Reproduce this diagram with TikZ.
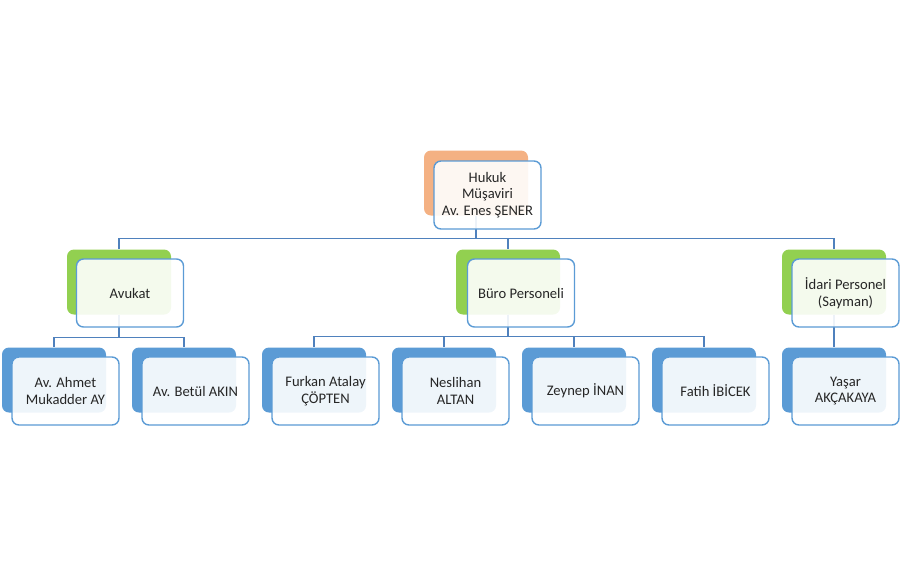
\documentclass[tikz,border=0pt]{standalone}
\usepackage{fontspec}
\setmainfont{Carlito}
\usepackage{tikz}
\usetikzlibrary{calc, positioning}
\definecolor{sorange}{HTML}{F4B183}
\definecolor{sgreen}{HTML}{92D050}
\definecolor{sblue}{HTML}{5B9BD5}
\definecolor{slink}{HTML}{4F81BD}
\definecolor{stext}{HTML}{262626}
\tikzset{
    x=1pt, y=-1pt,% one unit is one pixel of the chart, y goes down
    back/.style ={rectangle, rounded corners=7pt, minimum width=104pt, minimum height=65pt, inner sep=0pt}, % coloured card behind
    front/.style ={rectangle, rounded corners=7pt, draw=sblue, line width=1.4pt, fill=white, fill opacity=0.9, text opacity=1, minimum width=107pt, minimum height=68pt, align=center, text=stext, font=\fontsize{14.6}{16.5}\selectfont, inner sep=2pt},
    link/.style = {draw=slink, line width=1.4pt}
}
\begin{document}
\begin{tikzpicture}
    \useasboundingbox (0,0) rectangle (900,576);
    % coloured cards behind the white ones
    \node[back, fill=sorange] (hukuk-b) at (476,183) {};
    \node[back, fill=sgreen] (avukat-b) at (119,282) {};
    \node[back, fill=sgreen] (buro-b) at (508,282) {};
    \node[back, fill=sgreen] (idari-b) at (834,282) {};
    \node[back, fill=sblue] (ahmet-b) at (54,380) {};
    \node[back, fill=sblue] (betul-b) at (184,380) {};
    \node[back, fill=sblue] (furkan-b) at (314,380) {};
    \node[back, fill=sblue] (neslihan-b) at (444,380) {};
    \node[back, fill=sblue] (zeynep-b) at (574,380) {};
    \node[back, fill=sblue] (fatih-b) at (704,380) {};
    \node[back, fill=sblue] (yasar-b) at (834,380) {};

    % connectors, drawn under the white cards
    \path[link] (hukuk-b.south) -- ++(0,23) -| (avukat-b.north);
    \path[link] (hukuk-b.south) -- ++(0,23) -| (buro-b.north);
    \path[link] (hukuk-b.south) -- ++(0,23) -| (idari-b.north);
    \path[link] (avukat-b.south) -- ++(0,23) -| (ahmet-b.north);
    \path[link] (avukat-b.south) -- ++(0,23) -| (betul-b.north);
    \path[link] (buro-b.south) -- ++(0,22) -| (furkan-b.north);
    \path[link] (buro-b.south) -- ++(0,22) -| (neslihan-b.north);
    \path[link] (buro-b.south) -- ++(0,22) -| (zeynep-b.north);
    \path[link] (buro-b.south) -- ++(0,22) -| (fatih-b.north);
    \path[link] (idari-b.south) -- (yasar-b.north);

    % white cards with the names
    \node[front] (hukuk) at (487.5,195) {Hukuk\\Müşaviri\\Av. Enes ŞENER};
    \node[front] (avukat) at (130,293) {Avukat};
    \node[front] (buro) at (521,293) {Büro Personeli};
    \node[front] (idari) at (845.5,293) {İdari Personel\\(Sayman)};
    \node[front] (ahmet) at (65.5,391) {Av. Ahmet\\Mukadder AY};
    \node[front] (betul) at (195.5,391) {Av. Betül AKIN};
    \node[front] (furkan) at (325.5,391) {Furkan Atalay\\ÇÖPTEN};
    \node[front] (neslihan) at (455.5,391) {Neslihan\\ALTAN};
    \node[front] (zeynep) at (585.5,391) {Zeynep İNAN};
    \node[front] (fatih) at (715.5,391) {Fatih İBİCEK};
    \node[front] (yasar) at (845.5,391) {Yaşar\\AKÇAKAYA};
\end{tikzpicture}
\end{document}
